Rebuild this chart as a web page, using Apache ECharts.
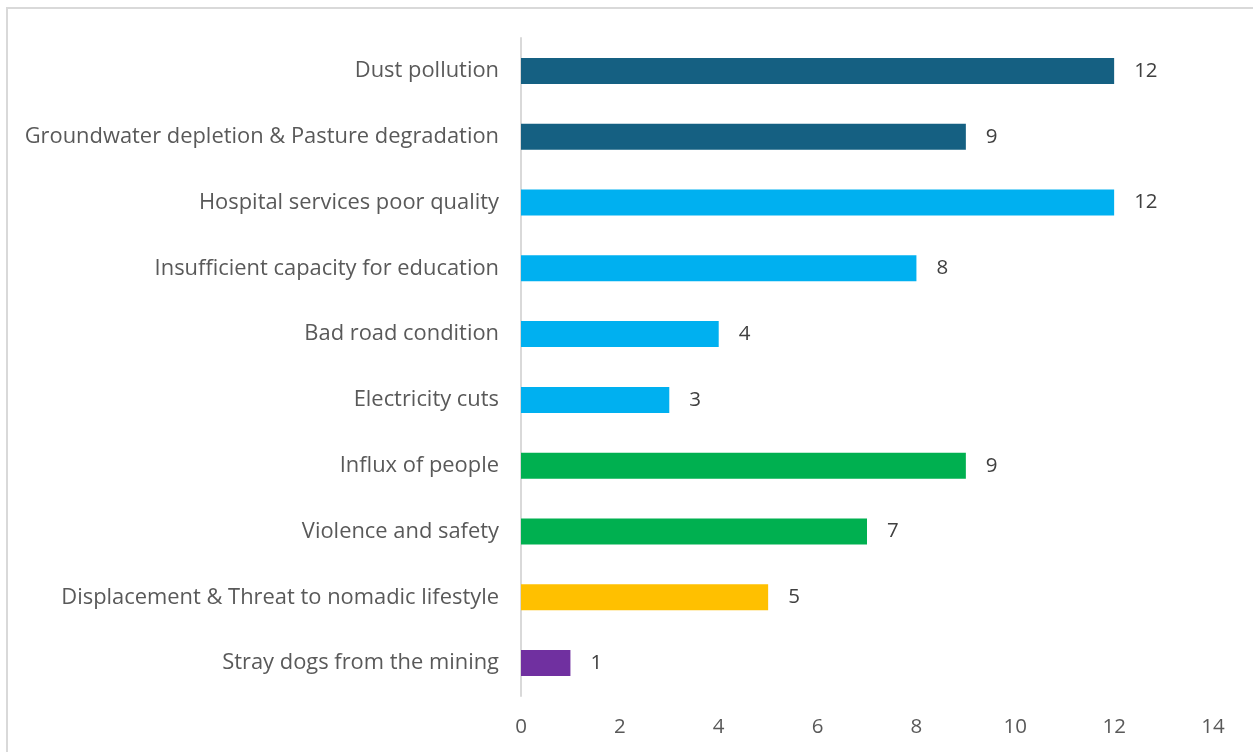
<!DOCTYPE html>
<html>
<head>
<meta charset="utf-8">
<script src="https://cdn.jsdelivr.net/npm/echarts@6/dist/echarts.min.js"></script>
<style>
html,body{margin:0;padding:0;background:#fff;}
#chart{width:1253px;height:752px;}
</style>
</head>
<body>
<div id="chart"></div>
<script>
const categories = [
  "Dust pollution",
  "Groundwater depletion & Pasture degradation",
  "Hospital services poor quality",
  "Insufficient capacity for education",
  "Bad road condition",
  "Electricity cuts",
  "Influx of people",
  "Violence and safety",
  "Displacement & Threat to nomadic lifestyle",
  "Stray dogs from the mining"
];
const values = [12, 9, 12, 8, 4, 3, 9, 7, 5, 1];
const barColors = ["#156082", "#156082", "#00B0F0", "#00B0F0", "#00B0F0", "#00B0F0", "#00B050", "#00B050", "#FFC000", "#7030A0"];
const xTicks = [0, 2, 4, 6, 8, 10, 12, 14];

const chart = echarts.init(document.getElementById('chart'));
const font = "'Open Sans', 'Noto Sans', sans-serif";
chart.setOption({
  animation: false,
  textStyle: { fontFamily: font },
  graphic: [{
    type: 'rect',
    shape: { x: 7, y: 8, width: 1400, height: 900 },
    style: { fill: 'none', stroke: '#d9d9d9', lineWidth: 2 }
  }],
  grid: { left: 521, right: 40, top: 38, bottom: 56, containLabel: false },
  xAxis: {
    type: 'value',
    min: xTicks[0],
    max: xTicks[xTicks.length - 1],
    interval: 2,
    axisLine: { show: false },
    axisTick: { show: false },
    splitLine: { show: false },
    axisLabel: { color: '#595959', fontSize: 20.5, margin: 21, fontFamily: font }
  },
  yAxis: {
    type: 'category',
    inverse: true,
    data: categories,
    axisLine: { show: true, lineStyle: { color: '#d9d9d9', width: 2 } },
    axisTick: { show: false },
    axisLabel: { color: '#595959', fontSize: 21.9, margin: 22, fontFamily: font }
  },
  series: [{
    type: 'bar',
    barWidth: 26,
    data: values.map((v, i) => ({ value: v, itemStyle: { color: barColors[i] } })),
    label: { show: true, position: 'right', distance: 20, color: '#404040', fontSize: 20.5, fontFamily: font }
  }]
});
</script>
</body>
</html>
